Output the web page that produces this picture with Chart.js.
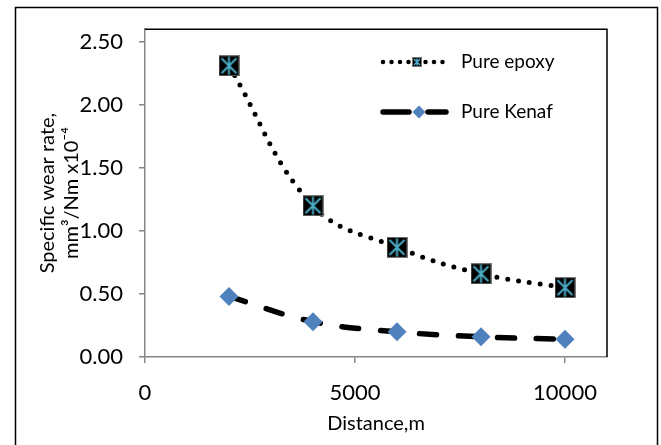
<!DOCTYPE html>
<html>
<head>
<meta charset="utf-8">
<script src="https://cdn.jsdelivr.net/npm/chart.js@4"></script>
<style>
    html, body { margin: 0; padding: 0; background: #fff; }
    #wrap { width: 661px; height: 445px; position: relative; }
</style>
</head>
<body>
<div id="wrap"><canvas id="wearChart" width="661" height="445"></canvas></div>
<script>
// ========================================
// DATA
// ========================================
const distances = [2000, 4000, 6000, 8000, 10000];
const epoxyWear = [2.31, 1.20, 0.87, 0.66, 0.55];
const kenafWear = [0.48, 0.28, 0.20, 0.16, 0.14];
const seriesNames = ['Pure epoxy', 'Pure Kenaf'];
const xTickValues = [0, 5000, 10000];
const yTickValues = [0, 0.5, 1.0, 1.5, 2.0, 2.5];
const xTitle = 'Distance,m';
const yTitle = ['Specific wear rate,', 'mm\u00B3/Nm x10\u207B\u2074'];

const FONT = 'Lato, Calibri, Carlito, sans-serif';
const CYAN = '#4bacc6';
const BLUE = '#4f81bd';

// ========================================
// MARKERS
// ========================================
function makeEpoxyMarker(size) {
    const c = document.createElement('canvas');
    c.width = size;
    c.height = size;
    const g = c.getContext('2d');
    g.fillStyle = '#000';
    g.fillRect(0, 0, size, size);
    g.strokeStyle = '#777';
    g.lineWidth = 1;
    g.strokeRect(0.5, 0.5, size - 1, size - 1);
    g.strokeStyle = CYAN;
    g.lineWidth = size > 14 ? 2 : 1.5;
    const m = size > 14 ? 3 : 2;
    g.beginPath();
    g.moveTo(m, m); g.lineTo(size - m, size - m);
    g.moveTo(size - m, m); g.lineTo(m, size - m);
    g.moveTo(size / 2, 1.5); g.lineTo(size / 2, size - 1.5);
    g.stroke();
    return c;
}

const epoxyMarker = makeEpoxyMarker(21);
const epoxyLegendMarker = makeEpoxyMarker(10);

// ========================================
// FRAME + LEGEND PLUGIN
// ========================================
const framePlugin = {
    id: 'frame',
    afterDraw(chart) {
        const ctx = chart.ctx;
        const a = chart.chartArea;
        ctx.save();
        // outer chart border
        ctx.strokeStyle = '#000';
        ctx.lineWidth = 1.5;
        ctx.strokeRect(15.5, 7.5, 642, 460);
        // plot area top + right border
        ctx.beginPath();
        ctx.moveTo(a.left, a.top);
        ctx.lineTo(a.right, a.top);
        ctx.lineTo(a.right, a.bottom);
        ctx.stroke();

        // legend
        const lx0 = 383, lx1 = 446, tx = 461;
        const y1 = 62, y2 = 112;
        ctx.lineCap = 'round';
        ctx.strokeStyle = '#000';
        ctx.lineWidth = 4.5;
        ctx.setLineDash([0, 8.5]);
        ctx.beginPath();
        ctx.moveTo(lx0, y1);
        ctx.lineTo(lx1, y1);
        ctx.stroke();
        ctx.drawImage(epoxyLegendMarker, 412, y1 - 5);

        ctx.lineWidth = 5.5;
        ctx.setLineDash([]);
        ctx.beginPath();
        ctx.moveTo(lx0, y2); ctx.lineTo(409, y2);
        ctx.moveTo(428, y2); ctx.lineTo(lx1, y2);
        ctx.stroke();
        ctx.fillStyle = BLUE;
        ctx.beginPath();
        ctx.moveTo(419, y2 - 6.5);
        ctx.lineTo(425.5, y2);
        ctx.lineTo(419, y2 + 6.5);
        ctx.lineTo(412.5, y2);
        ctx.closePath();
        ctx.fill();

        ctx.fillStyle = '#000';
        ctx.font = '19px ' + FONT;
        ctx.textBaseline = 'middle';
        ctx.fillText(seriesNames[0], tx, y1);
        ctx.fillText(seriesNames[1], tx, y2);
        ctx.restore();
    }
};

// ========================================
// CHART
// ========================================
const toPoints = (ys) => distances.map((x, i) => ({ x: x, y: ys[i] }));

new Chart(document.getElementById('wearChart'), {
    type: 'line',
    data: {
        datasets: [
            {
                label: seriesNames[0],
                data: toPoints(epoxyWear),
                borderColor: '#000',
                borderWidth: 5,
                borderDash: [0, 11],
                borderCapStyle: 'round',
                tension: 0.4,
                pointStyle: epoxyMarker,
                pointRadius: 10,
                pointHoverRadius: 10
            },
            {
                label: seriesNames[1],
                data: toPoints(kenafWear),
                borderColor: '#000',
                borderWidth: 5.5,
                borderDash: [17, 22],
                borderCapStyle: 'round',
                tension: 0.4,
                pointStyle: 'rectRot',
                pointRadius: 9.5,
                pointHoverRadius: 9.5,
                pointBackgroundColor: BLUE,
                pointBorderColor: BLUE,
                pointBorderWidth: 0
            }
        ]
    },
    options: {
        responsive: false,
        animation: false,
        events: [],
        layout: { padding: { top: 25, right: 54, left: 0, bottom: 0 } },
        plugins: {
            legend: { display: false },
            tooltip: { enabled: false }
        },
        scales: {
            x: {
                type: 'linear',
                min: 0,
                max: 11000,
                afterFit: (s) => { s.height = 88; },
                afterBuildTicks: (s) => { s.ticks = xTickValues.map(v => ({ value: v })); },
                border: { color: '#868686', width: 1.5 },
                grid: { drawOnChartArea: false, drawTicks: true, tickLength: 6, color: '#868686', lineWidth: 1.5 },
                ticks: {
                    padding: 17,
                    color: '#000',
                    font: { family: FONT, size: 22 },
                    callback: (v) => String(v)
                },
                title: {
                    display: true,
                    text: xTitle,
                    color: '#000',
                    font: { family: FONT, size: 20, lineHeight: 1.2 },
                    padding: { top: 0, bottom: 9 }
                }
            },
            y: {
                min: 0,
                max: 2.6,
                afterFit: (s) => { s.width = 145; },
                afterBuildTicks: (s) => { s.ticks = yTickValues.map(v => ({ value: v })); },
                border: { color: '#868686', width: 1.5 },
                grid: { drawOnChartArea: false, drawTicks: true, tickLength: 6, color: '#868686', lineWidth: 1.5 },
                ticks: {
                    padding: 16,
                    color: '#000',
                    font: { family: FONT, size: 22 },
                    callback: (v) => Number(v).toFixed(2)
                },
                title: {
                    display: true,
                    text: yTitle,
                    color: '#000',
                    font: { family: FONT, size: 20, lineHeight: 1.2 },
                    padding: { top: 36, bottom: 0 }
                }
            }
        }
    },
    plugins: [framePlugin]
});
</script>
</body>
</html>
